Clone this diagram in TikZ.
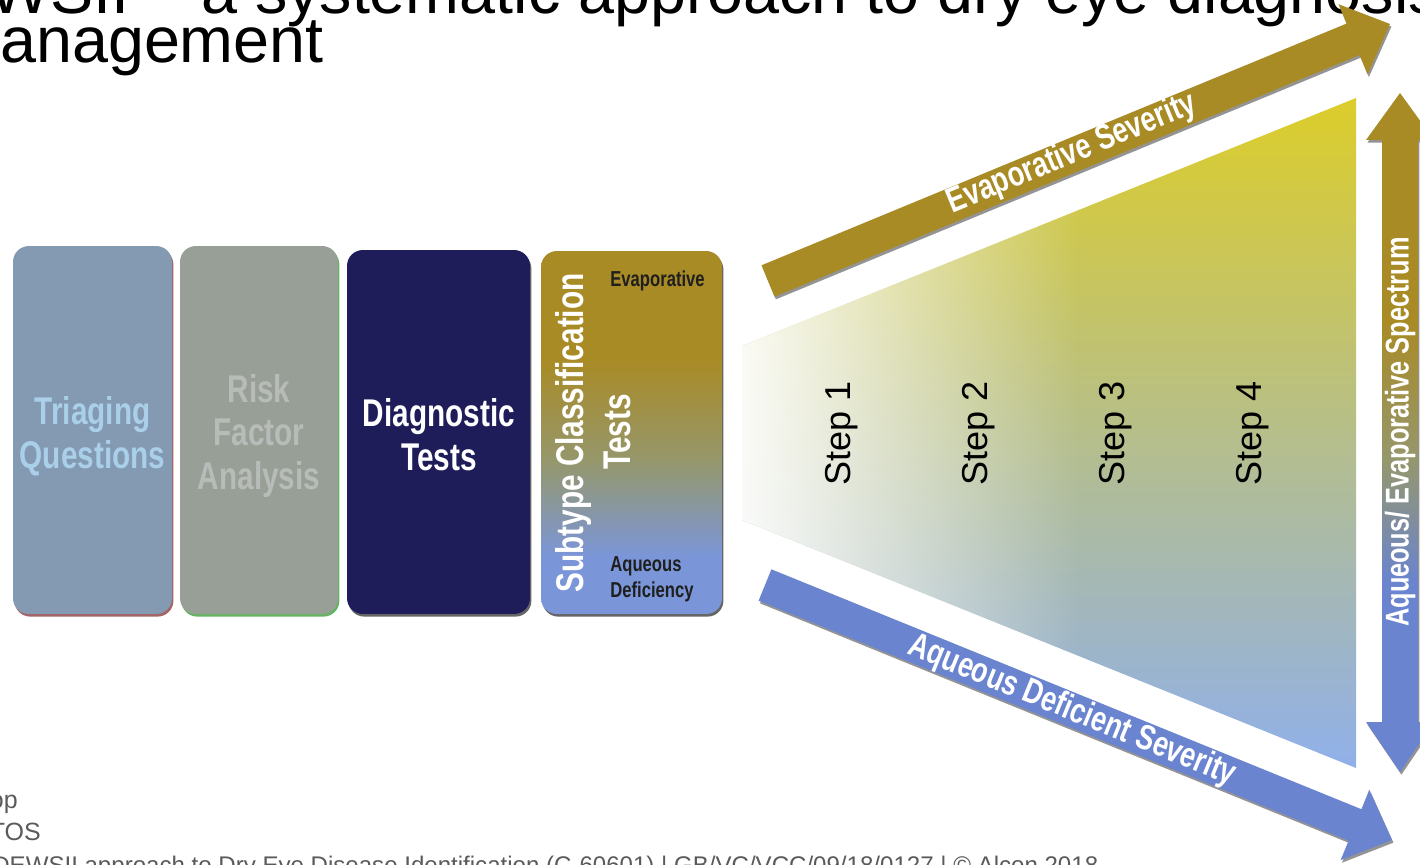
\documentclass[tikz,border=0pt]{standalone}
\usepackage{fontspec}
\setmainfont{Liberation Sans}
\newfontfamily\condb{Liberation Sans Bold}[FakeStretch=0.77]
\usetikzlibrary{shadows,fadings}
\definecolor{tqfill}{HTML}{8499B2}
\definecolor{tqtext}{HTML}{A9CFE9}
\definecolor{rffill}{HTML}{979F97}
\definecolor{rftext}{HTML}{B8BCB8}
\definecolor{dtfill}{HTML}{1E1D5A}
\definecolor{goldc}{HTML}{A98B26}
\definecolor{goldmid}{HTML}{95976C}
\definecolor{bluec}{HTML}{6A84CF}
\definecolor{blueb}{HTML}{7B96D8}
\definecolor{funtop}{HTML}{DCCD2A}
\definecolor{funmid}{HTML}{BCC262}
\definecolor{funbot}{HTML}{90B0EA}
\definecolor{footgrey}{HTML}{5A5A5A}
\pgfdeclareverticalshading{scshade}{100bp}{color(0bp)=(blueb); color(33bp)=(blueb); color(46bp)=(goldmid); color(60bp)=(goldc); color(100bp)=(goldc)}
\pgfdeclareverticalshading{spshade}{100bp}{color(0bp)=(bluec); color(39bp)=(bluec); color(48bp)=(goldmid); color(58bp)=(goldc); color(100bp)=(goldc)}
\tikzfading[name=fadeoutright, left color=transparent!5, right color=transparent!100]
\begin{document}
\begin{tikzpicture}[x=0.02cm,y=-0.02cm,
  box/.style={rounded corners=9pt, inner sep=0pt},
  boxtext/.style={font=\condb\fontsize{22}{25}\selectfont, align=center},
  arrowtext/.style={font=\condb\fontsize{20}{22}\selectfont, text=white, inner sep=0pt},
  smalltext/.style={font=\condb\fontsize{12.3}{14.7}\selectfont, text=black!88, inner sep=0pt, align=left},
  stepl/.style={font=\fontsize{20.5}{22}\selectfont, text=black, rotate=90, inner sep=0pt},
  shadowed/.style={drop shadow={shadow xshift=0.8pt, shadow yshift=-1.5pt, fill=#1, opacity=0.6}},
  plain/.style={inner sep=0pt}]
\useasboundingbox (0,0) rectangle (1420,865);
\clip (0,0) rectangle (1420,865);

% title
\node[plain, anchor=base west, font=\fontsize{36.8}{40}\selectfont] (t1) at (-101,14) {DEWSII – a systematic approach to dry eye diagnosis and};
\node[plain, anchor=base west, font=\fontsize{36.8}{40}\selectfont] (t2) at (-54,63) {management};

% footer
\node[plain, anchor=base east, text=footgrey, font=\fontsize{14.2}{16}\selectfont] (f1) at (18,808) {op};
\node[plain, anchor=base east, text=footgrey, font=\fontsize{14.2}{16}\selectfont] (f2) at (41,840) {TOS};
\node[plain, anchor=base west, text=footgrey, font=\fontsize{13.7}{15}\selectfont] (f3) at (-8,873) {DEWSII approach to Dry Eye Disease Identification (C-60601) | GB/VC/VCC/09/18/0127 | © Alcon 2018};

% boxes
\node[box, fill=tqfill, shadowed={black!60!red}, minimum width=3.18cm, minimum height=7.36cm] (tq) at (92.5,430) {};
\node[boxtext, text=tqtext] (tqt) at (92.5,436) {Triaging\\Questions};
\node[box, fill=rffill, shadowed={black!50!green}, minimum width=3.16cm, minimum height=7.36cm] (rf) at (259,430) {};
\node[boxtext, text=rftext] (rft) at (259,436) {Risk\\Factor\\Analysis};
\node[box, fill=dtfill, shadowed={black}, minimum width=3.66cm, minimum height=7.28cm] (dt) at (438.5,432) {};
\node[boxtext, text=white] (dtt) at (439,435) {Diagnostic\\Tests};
\node[box, shading=scshade, shadowed={black}, minimum width=3.62cm, minimum height=7.26cm] (sc) at (631.5,432.5) {};
\node[boxtext, text=white, rotate=90] (sct) at (573,433) {Subtype Classification};
\node[boxtext, text=white, rotate=90] (sctests) at (617,432) {Tests};
\node[smalltext, anchor=west] (ev) at (610,281) {Evaporative};
\node[smalltext, anchor=west] (aq) at (610,579) {Aqueous\\Deficiency};

% funnel
\shade[top color=funtop, middle color=funmid, bottom color=funbot]
  (742,346) -- (1356,98) -- (1356,768) -- (742,520) -- cycle;
\begin{scope}
  \clip (742,346) -- (1356,98) -- (1356,768) -- (742,520) -- cycle;
  \fill[white, path fading=fadeoutright] (738,90) rectangle (1080,780);
\end{scope}

% steps
\node[stepl] (s1) at (842,433) {Step 1};
\node[stepl] (s2) at (979,433) {Step 2};
\node[stepl] (s3) at (1116,433) {Step 3};
\node[stepl] (s4) at (1253,433) {Step 4};

% evaporative severity arrow
\fill[goldc, shadowed={black!70}]
  (761.5,265.3) -- (1346.5,23.6) -- (1338.5,4.2) -- (1390,24) -- (1367.5,74.4) -- (1359.5,55.0) -- (774.5,296.7) -- cycle;
\node[arrowtext, rotate=22.45] (evs) at (1072,154) {Evaporative Severity};

% aqueous deficient severity arrow
\fill[bluec, shadowed={black!70}]
  (771.4,569.3) -- (1361.4,809.2) -- (1369.3,789.7) -- (1392,840) -- (1340.6,860.1) -- (1348.6,840.7) -- (758.6,600.7) -- cycle;
\node[arrowtext, rotate=-22.13] (aqs) at (1072,711) {Aqueous Deficient Severity};

% spectrum double arrow
\shade[shading=spshade, shadowed={black!70}]
  (1400,93) -- (1434,140) -- (1418,140) -- (1418,722) -- (1434,722) -- (1400,772) -- (1366,722) -- (1382,722) -- (1382,140) -- (1366,140) -- cycle;
\node[arrowtext, font=\condb\fontsize{18.7}{20}\selectfont, rotate=90] (spec) at (1400,432) {Aqueous/ Evaporative Spectrum};
\end{tikzpicture}
\end{document}
